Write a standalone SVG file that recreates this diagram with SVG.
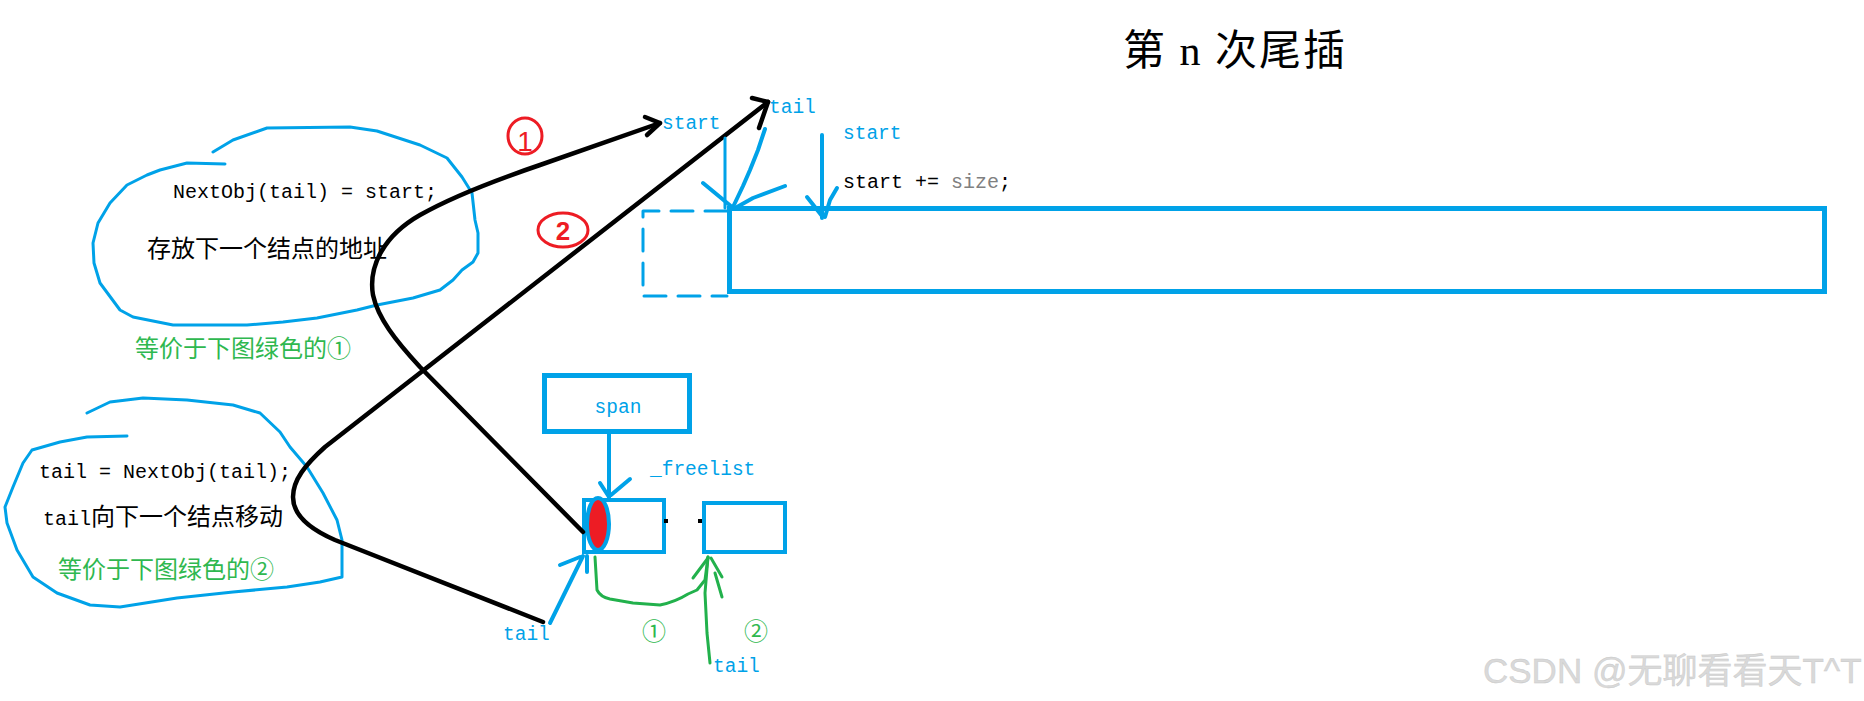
<svg xmlns="http://www.w3.org/2000/svg" width="1864" height="701" viewBox="0 0 1864 701">
<style>
.bl{fill:none;stroke:#00a2e8;stroke-linecap:round;stroke-linejoin:round}
.bk{fill:none;stroke:#000;stroke-width:4.5;stroke-linecap:round;stroke-linejoin:round}
.gr{fill:none;stroke:#22b14c;stroke-width:3;stroke-linecap:round;stroke-linejoin:round}
.rd{fill:none;stroke:#ed1c24;stroke-width:3;stroke-linecap:round;stroke-linejoin:round}
.code{font-family:"Liberation Mono","Noto Sans CJK SC",monospace;font-size:20px;fill:#000}
.lbl{font-family:"Liberation Mono",monospace;font-size:19.5px;fill:#00a2e8}
.cjk{font-family:"Noto Sans CJK SC",sans-serif;font-size:24px;fill:#000}
.gt{fill:#2fb84f}
</style>
<rect width="1864" height="701" fill="#fff"/>

<g id="title">
<text x="1123" y="65" font-family="'Liberation Serif','Noto Sans CJK SC',serif" font-size="42" letter-spacing="2" fill="#000">第 n 次尾插</text>
</g>

<g id="bubble1">
<path class="bl" stroke-width="3" d="M213,152 L233,140 L267,128 L350,127 L377,131 L420,145 L447,158 L462,177 L472,193 L475,220 L478,233 L478,253 L473,262 L462,270 L453,280 L440,290 L413,298 L377,305 L357,310 L317,318 L283,322 L247,325 L173,325 L133,317 L120,310 L100,283 L94,263 L93,243 L98,223 L110,203 L127,185 L147,175 L160,170 L187,163 L225,164"/>
<text class="code" x="173" y="198">NextObj(tail) = start;</text>
<text class="cjk" x="147" y="257">存放下一个结点的地址</text>
<text class="cjk gt" x="135" y="357">等价于下图绿色的①</text>
</g>

<g id="bubble2">
<path class="bl" stroke-width="3" d="M87,413 L110,402 L143,398 L187,400 L233,405 L260,413 L280,432 L290,447 L307,467 L323,493 L337,520 L342,540 L342,577 L320,582 L287,587 L233,592 L177,598 L120,607 L90,605 L57,593 L33,577 L17,550 L7,523 L5,507 L13,487 L23,463 L32,450 L60,442 L87,437 L127,436"/>
<text class="code" x="39" y="478">tail = NextObj(tail);</text>
<text x="43" y="525"><tspan class="code">tail</tspan><tspan class="cjk">向下一个结点移动</tspan></text>
<text class="cjk gt" x="58" y="578">等价于下图绿色的②</text>
</g>

<g id="block">
<path class="bl" stroke-width="3" stroke-dasharray="22 12" stroke-linecap="butt" d="M727,211 H643 V296 H727"/>
<rect x="729.5" y="208.5" width="1095" height="83" fill="none" stroke="#00a2e8" stroke-width="5"/>
</g>

<g id="top-labels">
<text class="lbl" x="662" y="129">start</text>
<text class="lbl" x="769" y="113">tail</text>
<text class="lbl" x="843" y="139">start</text>
<text class="code" x="843" y="188" font-size="19.5">start += <tspan fill="#808080">size</tspan>;</text>
</g>

<g id="span">
<rect x="544.5" y="375.5" width="145" height="56" fill="none" stroke="#00a2e8" stroke-width="5"/>
<text class="lbl" x="618" y="413" text-anchor="middle">span</text>
</g>

<g id="freelist-label">
<text class="lbl" x="650" y="475">_freelist</text>
</g>

<g id="node1">
<rect x="584" y="500" width="80" height="52" fill="none" stroke="#00a2e8" stroke-width="4"/>
<ellipse cx="598" cy="524" rx="11" ry="26" fill="#ed1c24" stroke="#00a2e8" stroke-width="4"/>
<rect x="664" y="519" width="4" height="4" fill="#000"/>
</g>

<g id="node2">
<rect x="704" y="503" width="81" height="49" fill="none" stroke="#00a2e8" stroke-width="4"/>
<rect x="698" y="519" width="4" height="4" fill="#000"/>
</g>

<g id="bottom-labels">
<text class="lbl" x="503" y="640">tail</text>
<text class="cjk gt" x="642" y="640" font-size="22">①</text>
<text class="cjk gt" x="744" y="640" font-size="22">②</text>
<text class="lbl" x="713" y="672" fill="#2fb84f">tail</text>
</g>

<g id="marks">
<ellipse cx="525" cy="136" rx="17" ry="18" class="rd"/>
<text x="525" y="151" text-anchor="middle" font-family="'Liberation Sans',sans-serif" font-size="28" fill="#ed1c24">1</text>
<ellipse cx="563" cy="230" rx="25" ry="17" class="rd"/>
<text x="563" y="240" text-anchor="middle" font-family="'Liberation Sans',sans-serif" font-weight="bold" font-size="26" fill="#ed1c24">2</text>
</g>

<g id="connectors">
<path class="bk" d="M583,532 L420,367 C395,340 378,318 373,295 C368,265 385,235 420,215 C450,198 490,182 540,165 L660,123"/>
<path class="bk" d="M645,117 L660,123 L647,135"/>
<path class="bk" d="M543,622 L335,540 C305,527 293,512 293,497 C293,480 305,465 325,447 L768,102"/>
<path class="bk" d="M752,98 L768,102 L759,128"/>
<path class="bl" stroke-width="3" d="M725,138 V208"/>
<path class="bl" stroke-width="4" d="M765,129 L758,150 L750,170 L743,186 L733,207"/>
<path class="bl" stroke-width="4" d="M703,183 L732,207 M785,186 L753,198 L737,207"/>
<path class="bl" stroke-width="4" d="M822,135 V218"/>
<path class="bl" stroke-width="4" d="M807,197 L822,216 M837,188 L830,200 L825,217"/>
<path class="bl" stroke-width="4" d="M609,434 V497"/>
<path class="bl" stroke-width="4" d="M600,483 L609,497 M630,479 L611,495"/>
<path class="bl" stroke-width="4" d="M550,623 L583,556"/>
<path class="bl" stroke-width="4" d="M560,565 L580,557 M587,556 V572"/>
<path class="gr" d="M595,557 L597,590 C600,596 605,598 610,599 L633,603 L660,605 C670,603 680,599 688,594 L697,590 L705,580 L708,557"/>
<path class="gr" d="M693,578 L708,558 M722,577 L711,558 M722,597 L715,573"/>
<path class="gr" d="M710,663 L707,633 L705,593 L708,557"/>
</g>

<g id="watermark">
<text x="1483" y="683" font-family="'Liberation Sans','Noto Sans CJK SC',sans-serif" font-size="35" fill="#d9d9d9" stroke="#c8c8c8" stroke-width="0.4">CSDN @无聊看看天T^T</text>
</g>
</svg>
